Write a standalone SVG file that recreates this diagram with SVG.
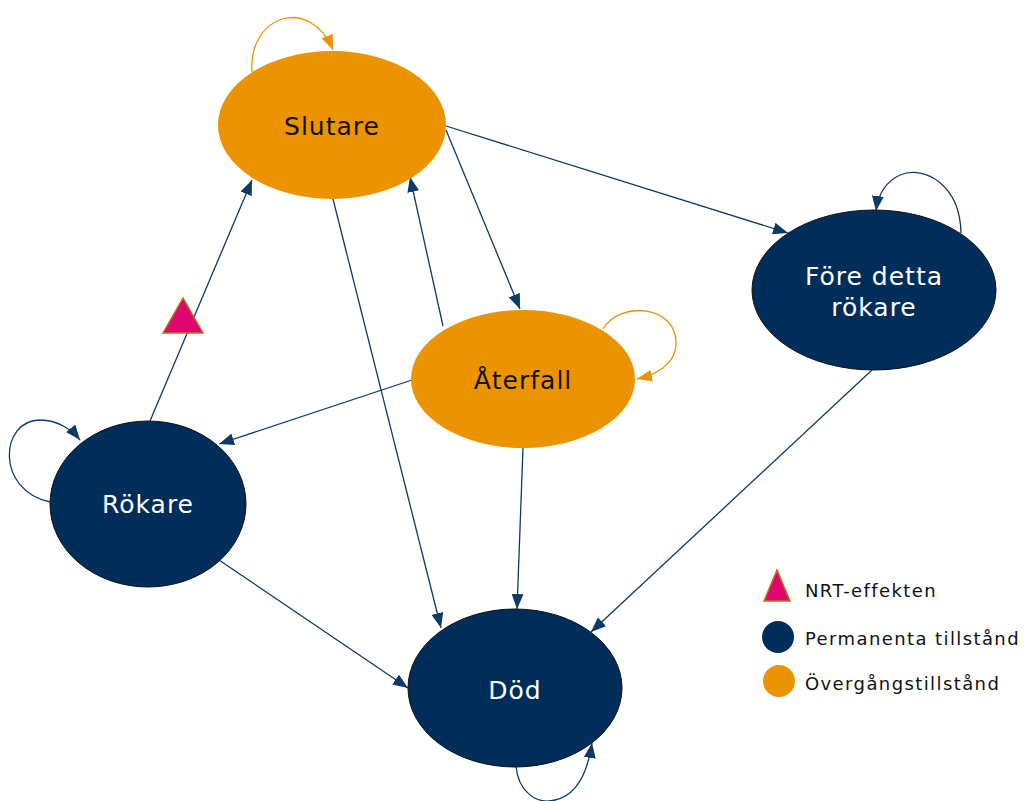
<svg xmlns="http://www.w3.org/2000/svg" width="1025" height="801" viewBox="0 0 1025 801">
<style>
.lbl{font-family:"DejaVu Sans","Liberation Sans",sans-serif;font-size:25px;text-anchor:middle;letter-spacing:1px}
.dk{fill:#ffffff}
.lt{fill:#111111}
.perm{fill:#002D5A;stroke:#111;stroke-width:1}
.tran{fill:#EC9300}
.e{fill:none;stroke:#0E3A68;stroke-width:1.3}
.eo{fill:none;stroke:#EC9300;stroke-width:1.3}
.leg{font-family:"DejaVu Sans","Liberation Sans",sans-serif;font-size:18px;fill:#111;letter-spacing:1.4px}
</style>
<defs>
<marker id="a" markerUnits="userSpaceOnUse" markerWidth="16" markerHeight="12" refX="15" refY="6" orient="auto"><path d="M0,0 L15,6 L0,12 z" fill="#0E3A68"/></marker>
<marker id="ao" markerUnits="userSpaceOnUse" markerWidth="16" markerHeight="12" refX="15" refY="6" orient="auto"><path d="M0,0 L15,6 L0,12 z" fill="#EC9300"/></marker>
</defs>
<rect width="1025" height="801" fill="#fff"/>
<g id="edges">
<path class="eo" d="M252,72 C248,15 310,-5 333,50" marker-end="url(#ao)"/>
<path class="e" d="M150,421 L252,180" marker-end="url(#a)"/>
<path class="e" d="M446,126 L788,233" marker-end="url(#a)"/>
<path class="e" d="M446,130 L520,309" marker-end="url(#a)"/>
<path class="e" d="M333,199 L441,628" marker-end="url(#a)"/>
<path class="e" d="M443,326 L410,177" marker-end="url(#a)"/>
<path class="eo" d="M603,329 C620,300 678,305 676,345 C675,365 655,375 637,379" marker-end="url(#ao)"/>
<path class="e" d="M412,380 L219,444" marker-end="url(#a)"/>
<path class="e" d="M523,448 L517,609" marker-end="url(#a)"/>
<path class="e" d="M961,233 C960,185 925,165 900,175 C885,182 878,195 876,211" marker-end="url(#a)"/>
<path class="e" d="M872,370 L591,632" marker-end="url(#a)"/>
<path class="e" d="M219,560 L408,688" marker-end="url(#a)"/>
<path class="e" d="M50,502 C-5,490 0,420 40,420 C58,420 72,430 80,440" marker-end="url(#a)"/>
<path class="e" d="M516,766 C518,790 535,805 555,800 C578,795 588,770 592,743" marker-end="url(#a)"/>
</g>
<g id="nrt"><polygon points="183,298 163,333 203,333" fill="#E0066F" stroke="#B8721A" stroke-width="1.5"/></g>
<g id="slutare"><ellipse class="tran" cx="332" cy="125" rx="114" ry="74"/><text class="lbl lt" x="332" y="135">Slutare</text></g>
<g id="aterfall"><ellipse class="tran" cx="523" cy="379" rx="112" ry="69"/><text class="lbl lt" x="523" y="389">Återfall</text></g>
<g id="rokare"><ellipse class="perm" cx="148" cy="504" rx="98" ry="83"/><text class="lbl dk" x="148" y="513">Rökare</text></g>
<g id="fore"><ellipse class="perm" cx="874" cy="290" rx="122" ry="80"/><text class="lbl dk" x="874" y="285">Före detta</text><text class="lbl dk" x="874" y="316">rökare</text></g>
<g id="dod"><ellipse class="perm" cx="515" cy="688" rx="107" ry="79"/><text class="lbl dk" x="515" y="699">Död</text></g>
<g id="legend">
<polygon points="777,570 764,601 790,601" fill="#E0066F" stroke="#B8721A" stroke-width="1.5"/>
<text class="leg" x="805" y="597">NRT-effekten</text>
<circle cx="778" cy="637" r="16" fill="#002D5A"/>
<text class="leg" x="805" y="645">Permanenta tillstånd</text>
<circle cx="779" cy="681" r="16" fill="#EC9300"/>
<text class="leg" x="805" y="690">Övergångstillstånd</text>
</g>
</svg>
